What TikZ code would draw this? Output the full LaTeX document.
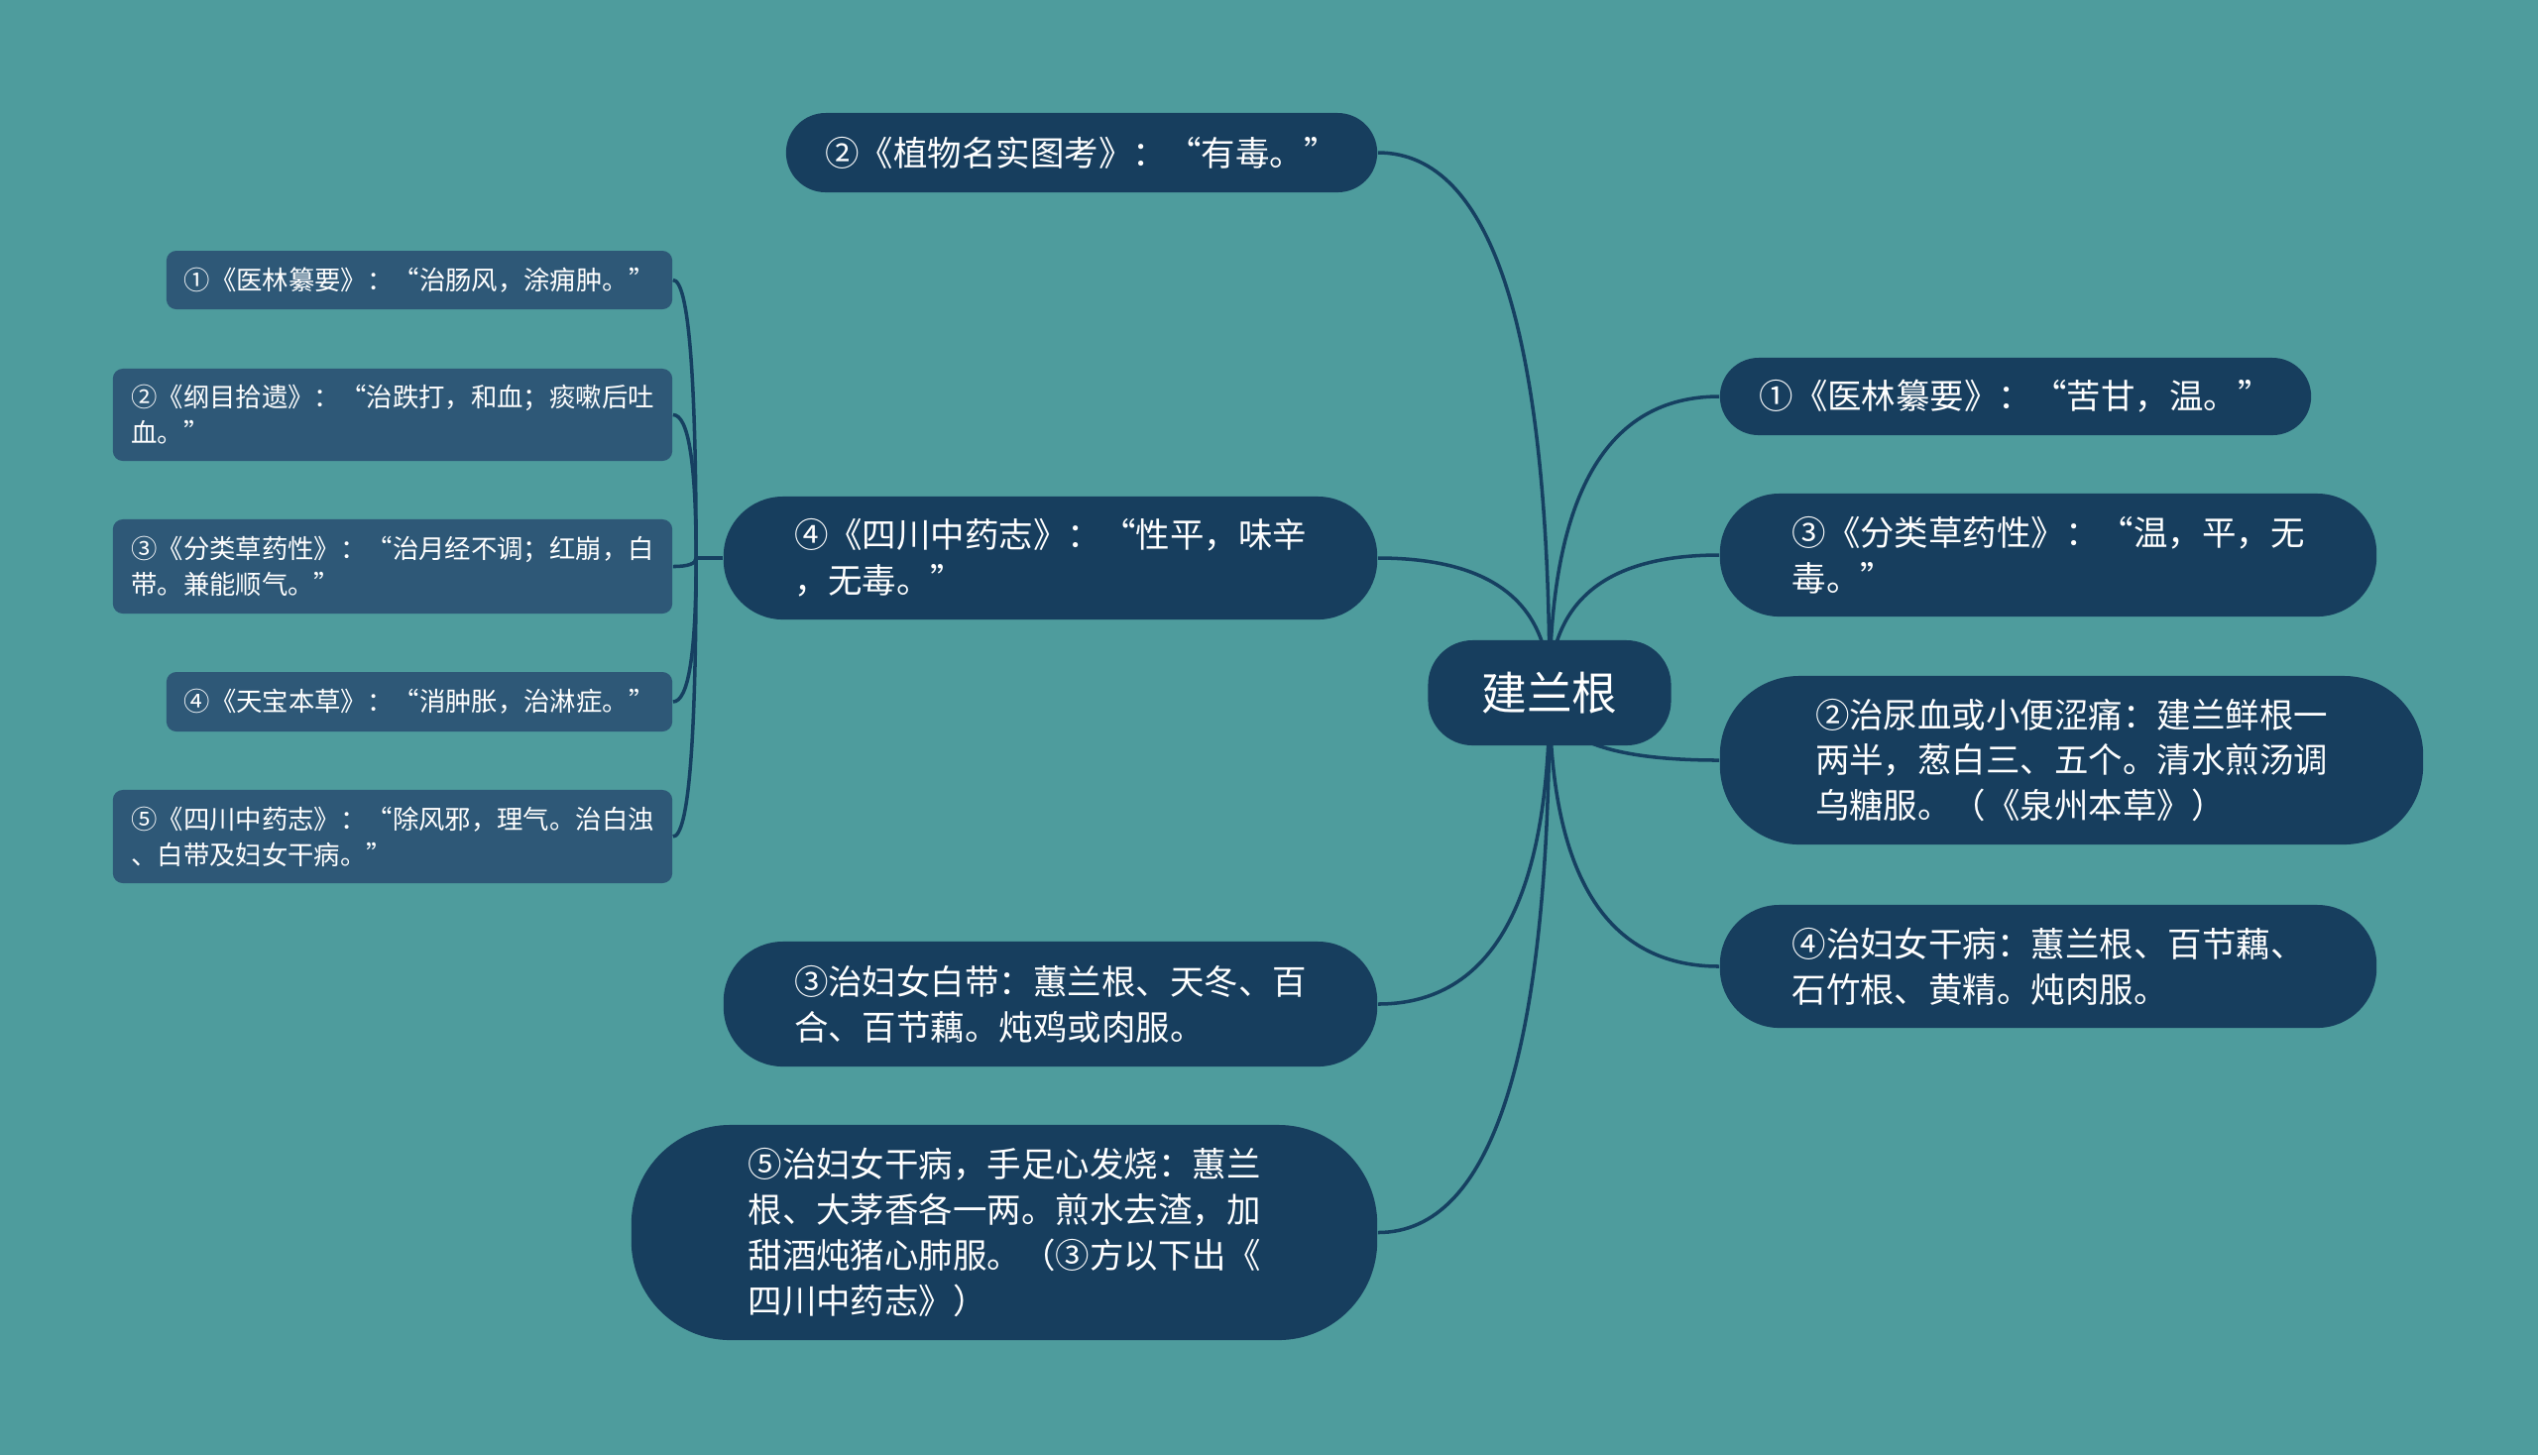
\documentclass[tikz,border=0pt]{standalone}
\usepackage{fontspec}
\setmainfont{Noto Sans CJK SC}
\usetikzlibrary{calc,backgrounds}
\definecolor{bgteal}{HTML}{4E9C9D}
\definecolor{cnode}{HTML}{173E5E}
\definecolor{cleaf}{HTML}{2E5877}
\definecolor{cline}{HTML}{164061}
\newcommand{\hubfont}{\fontsize{13pt}{16pt}\selectfont}
\newcommand{\topicfont}{\fontsize{9.8pt}{13pt}\selectfont}
\newcommand{\leaffont}{\fontsize{7.5pt}{10.2pt}\selectfont}
\tikzset{
  every picture/.style={x=0.01cm, y=-0.01cm},
  hub/.style={fill=cnode, text=white, font=\hubfont, inner sep=0pt,
    minimum width=2.45cm, minimum height=1.06cm, rounded corners=0.45cm},
  topic/.style={fill=cnode, text=white, font=\topicfont, align=left,
    inner sep=0pt, rounded corners=#1},
  topic/.default=0.6cm,
  leafbox/.style={fill=cleaf, text=white, font=\leaffont, align=left,
    inner sep=0pt, rounded corners=0.1cm},
  conn/.style={cline, line width=1pt},
}
% quadratic curve: leaves #1 vertically, reaches #2 horizontally
\newcommand{\qlink}[2]{%
  \draw[conn] (#1) .. controls ($(#1)!2/3!(#1 |- #2)$) and ($(#2)!2/3!(#1 |- #2)$) .. (#2);}

\begin{document}
\begin{tikzpicture}
  % centre
  \node[hub] (hub) at (1563,699) {建兰根};
  % left side
  \node[topic=0.4cm, minimum width=5.96cm, minimum height=0.8cm] (tA) at (1091,154)
    {②《植物名实图考》：“有毒。”};
  \node[topic, minimum width=6.59cm, minimum height=1.24cm] (tB) at (1059.5,563)
    {④《四川中药志》：“性平，味辛\\，无毒。”};
  \node[topic, minimum width=6.59cm, minimum height=1.26cm] (tC) at (1059.5,1013)
    {③治妇女白带：蕙兰根、天冬、百\\合、百节藕。炖鸡或肉服。};
  \node[topic=1.0cm, minimum width=7.52cm, minimum height=2.17cm] (tD) at (1013,1243.5)
    {⑤治妇女干病，手足心发烧：蕙兰\\根、大茅香各一两。煎水去渣，加\\甜酒炖猪心肺服。（③方以下出《\\四川中药志》）};
  % right side
  \node[topic=0.39cm, minimum width=5.96cm, minimum height=0.78cm] (tE) at (2033,400)
    {①《医林纂要》：“苦甘，温。”};
  \node[topic, minimum width=6.62cm, minimum height=1.24cm] (tF) at (2066,560)
    {③《分类草药性》：“温，平，无\\毒。”};
  \node[topic=0.8cm, minimum width=7.09cm, minimum height=1.70cm] (tG) at (2089.5,767)
    {②治尿血或小便涩痛：建兰鲜根一\\两半，葱白三、五个。清水煎汤调\\乌糖服。（《泉州本草》）};
  \node[topic, minimum width=6.62cm, minimum height=1.24cm] (tH) at (2066,975)
    {④治妇女干病：蕙兰根、百节藕、\\石竹根、黄精。炖肉服。};
  % leaves of tB
  \node[leafbox, minimum width=5.10cm, minimum height=0.59cm] (l1) at (423,282.5)
    {①《医林纂要》：“治肠风，涂痈肿。”};
  \node[leafbox, minimum width=5.64cm, minimum height=0.93cm] (l2) at (396,418.5)
    {②《纲目拾遗》：“治跌打，和血；痰嗽后吐\\血。”};
  \node[leafbox, minimum width=5.64cm, minimum height=0.95cm] (l3) at (396,571.5)
    {③《分类草药性》：“治月经不调；红崩，白\\带。兼能顺气。”};
  \node[leafbox, minimum width=5.10cm, minimum height=0.60cm] (l4) at (423,708)
    {④《天宝本草》：“消肿胀，治淋症。”};
  \node[leafbox, minimum width=5.64cm, minimum height=0.94cm] (l5) at (396,844)
    {⑤《四川中药志》：“除风邪，理气。治白浊\\、白带及妇女干病。”};
  \coordinate (j) at ($(tB.west)+(-27,0)$);
  \begin{scope}[on background layer]
    \fill[bgteal] (0,0) rectangle (2560,1468);
    \foreach \t in {tA,tB,tC,tD} {\qlink{hub.center}{\t.east}}
    \foreach \t in {tE,tF,tG,tH} {\qlink{hub.center}{\t.west}}
    \draw[conn] (tB.west) -- (j);
    \foreach \l in {l1,l2,l3,l4,l5} {\qlink{j}{\l.east}}
  \end{scope}
\end{tikzpicture}
\end{document}
